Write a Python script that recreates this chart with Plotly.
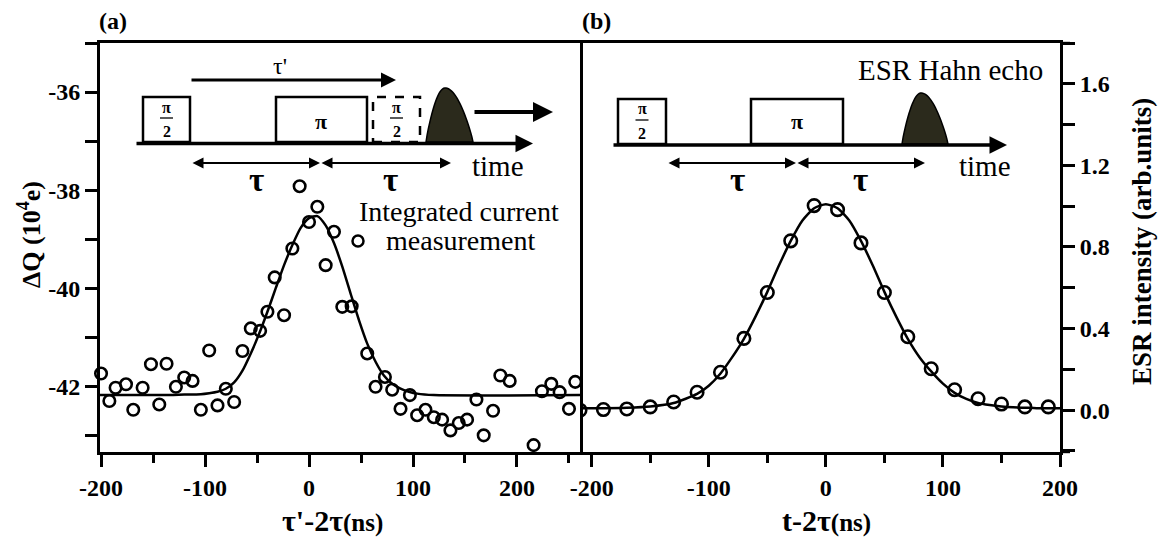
import math
import plotly.graph_objects as go

W, H = 1158, 545
ML, MR, MT, MB = 100, 98, 43, 93
SERIF = "Liberation Serif"

# ---------------- data ----------------
# (a) integrated current measurement, tau' - 2 tau (ns) vs Delta Q (1e4 e)
dq_t = [-200, -192, -186, -176, -169, -160, -152, -144, -137, -128, -120, -112,
        -104, -96, -88, -80, -72, -64, -56, -47, -40, -33, -24, -16, -9, 0, 8,
        16, 24, 32, 41, 56, 64, 73, 80, 88, 97, 104, 112, 120, 128, 136, 144,
        152, 161, 168, 177, 184, 193, 216, 224, 233, 241, 250, 256]
dq_val = [-41.74, -42.30, -42.03, -41.96, -42.48, -42.03, -41.55, -42.37, -41.54,
          -42.01, -41.82, -41.89, -42.48, -41.27, -42.39, -42.05, -42.32, -41.28,
          -40.82, -40.87, -40.48, -39.78, -40.55, -39.19, -37.92, -38.65, -38.34,
          -39.53, -38.85, -40.38, -40.37, -41.33, -42.01, -41.81, -42.07, -42.46,
          -42.18, -42.59, -42.48, -42.63, -42.68, -42.90, -42.75, -42.68, -42.27,
          -43.00, -42.50, -41.78, -41.89, -43.20, -42.10, -41.95, -42.12, -42.46,
          -41.91]
# fit curve (a)
dq_fit_t = [-201, -140, -120, -104, -96, -88, -80, -72, -64, -56, -48, -40, -32,
            -24, -16, -8, 0, 8, 16, 24, 32, 40, 48, 56, 64, 72, 80, 88, 96, 104,
            120, 261]
dq_fit_val = [-42.18, -42.18, -42.17, -42.16, -42.14, -42.11, -42.05, -41.92,
              -41.68, -41.33, -40.93, -40.48, -40.00, -39.53, -39.12, -38.77,
              -38.57, -38.53, -38.72, -39.08, -39.56, -40.11, -40.65, -41.13,
              -41.50, -41.78, -41.95, -42.05, -42.11, -42.15, -42.18, -42.18]

# (b) ESR Hahn echo, t - 2 tau (ns) vs ESR intensity (arb. units)
esr_t = [-210, -190, -170, -150, -130, -110, -90, -70, -50, -30, -10, 10, 30, 50,
         70, 90, 110, 130, 150, 170, 190]
esr_val = [0.000, 0.003, 0.006, 0.016, 0.040, 0.088, 0.186, 0.352, 0.577, 0.830,
           1.003, 0.983, 0.820, 0.577, 0.360, 0.203, 0.100, 0.056, 0.030, 0.016,
           0.016]
esr_fit_t = [-210, -190, -170, -150, -130, -110, -100, -90, -80, -70, -60, -50,
             -40, -30, -20, -10, 0, 10, 20, 30, 40, 50, 60, 70, 80, 90, 100, 110,
             120, 130, 140, 150, 160, 170, 180, 190, 200]
esr_fit_val = [0.010, 0.010, 0.012, 0.018, 0.035, 0.080, 0.120, 0.180, 0.260,
               0.350, 0.460, 0.580, 0.710, 0.830, 0.930, 0.990, 1.010, 0.990,
               0.930, 0.830, 0.710, 0.580, 0.460, 0.350, 0.260, 0.190, 0.130,
               0.085, 0.055, 0.035, 0.025, 0.018, 0.014, 0.012, 0.010, 0.010,
               0.010]

xticks_a = [-200, -100, 0, 100, 200]
xticks_a_text = ["-200", "-100", "0", "100", "200"]
xticks_b = [-200, -100, 0, 100, 200]
xticks_b_text = ["-200", "-100", "0", "100", "200"]
yticks_a = [-42, -40, -38, -36]
yticks_a_text = ["-42", "-40", "-38", "-36"]
yticks_b = [0.0, 0.4, 0.8, 1.2, 1.6]
yticks_b_text = ["0.0", "0.4", "0.8", "1.2", "1.6"]


# ---------------- helpers: pixel -> paper ----------------
def px(x):
    return (x - ML) / (W - ML - MR)


def py(y):
    return (H - MB - y) / (H - MT - MB)


fig = go.Figure()

fig.add_trace(go.Scatter(x=dq_fit_t, y=dq_fit_val, mode="lines",
                         line=dict(color="black", width=2.5, shape="spline", smoothing=0.6),
                         xaxis="x", yaxis="y", showlegend=False, hoverinfo="skip"))
fig.add_trace(go.Scatter(x=dq_t, y=dq_val, mode="markers",
                         marker=dict(symbol="circle-open", size=11.5, color="black",
                                     line=dict(width=2.6, color="black")),
                         xaxis="x", yaxis="y", showlegend=False, cliponaxis=False))
fig.add_trace(go.Scatter(x=esr_fit_t, y=esr_fit_val, mode="lines",
                         line=dict(color="black", width=2.5, shape="spline", smoothing=0.6),
                         xaxis="x2", yaxis="y2", showlegend=False, hoverinfo="skip"))
fig.add_trace(go.Scatter(x=esr_t, y=esr_val, mode="markers",
                         marker=dict(symbol="circle-open", size=12.5, color="black",
                                     line=dict(width=2.6, color="black")),
                         xaxis="x2", yaxis="y2", showlegend=False, cliponaxis=True))

TICKFONT = dict(family=SERIF, size=24, color="black", weight="bold")
common = dict(showline=True, linecolor="black", linewidth=3,
              showgrid=False, zeroline=False, ticks="outside", ticklen=12,
              tickwidth=3, tickcolor="black", tickfont=TICKFONT)

fig.update_layout(
    width=W, height=H,
    margin=dict(l=ML, r=MR, t=MT, b=MB),
    paper_bgcolor="white", plot_bgcolor="white",
    showlegend=False,
    xaxis=dict(domain=[0, 0.5], range=[-201, 260.6], anchor="y", mirror=True,
               tickmode="array", tickvals=xticks_a, ticktext=xticks_a_text,
               minor=dict(dtick=50, tick0=0, ticks="outside", ticklen=8,
                          tickwidth=3, tickcolor="black"),
               **common),
    yaxis=dict(domain=[0, 1], range=[-43.34, -35.0], anchor="x", mirror=True,
               tickmode="array", tickvals=yticks_a, ticktext=yticks_a_text,
               minor=dict(dtick=1, tick0=0, ticks="outside", ticklen=12,
                          tickwidth=3, tickcolor="black"),
               **common),
    xaxis2=dict(domain=[0.5, 1], range=[-210, 200], anchor="y2", mirror=True,
                tickmode="array", tickvals=xticks_b, ticktext=xticks_b_text,
                minor=dict(dtick=50, tick0=0, ticks="outside", ticklen=8,
                           tickwidth=3, tickcolor="black"),
                **common),
    yaxis2=dict(domain=[0, 1], range=[-0.205, 1.8], anchor="x2", side="right",
                mirror=False,
                tickmode="array", tickvals=yticks_b, ticktext=yticks_b_text,
                minor=dict(dtick=0.2, tick0=0, ticks="outside", ticklen=12,
                           tickwidth=3, tickcolor="black"),
                **common),
)

shapes = []
ann = []


def text(x, y, s, size, bold=False, angle=0, xanchor="center"):
    ann.append(dict(x=px(x), y=py(y), xref="paper", yref="paper", text=s,
                    showarrow=False, textangle=angle, xanchor=xanchor, yanchor="middle",
                    font=dict(family=SERIF, size=size, color="black",
                              weight="bold" if bold else "normal")))


def arrow(x0, y0, x1, y1, width, head=2, size=1.0, both=False):
    d = dict(x=px(x1), y=py(y1), xref="paper", yref="paper", text="",
             showarrow=True, ax=x0 - x1, ay=y0 - y1, axref="pixel", ayref="pixel",
             arrowhead=head, arrowsize=size, arrowwidth=width, arrowcolor="black",
             standoff=0, startstandoff=0)
    if both:
        d.update(arrowside="end+start", startarrowhead=head, startarrowsize=size)
    ann.append(d)


def rect(x0, y0, x1, y1, width=2.5, dash="solid"):
    shapes.append(dict(type="rect", xref="paper", yref="paper",
                       x0=px(x0), x1=px(x1), y0=py(y1), y1=py(y0),
                       line=dict(color="black", width=width, dash=dash),
                       fillcolor="rgba(0,0,0,0)", layer="above"))


def hline(x0, x1, y, width):
    shapes.append(dict(type="line", xref="paper", yref="paper",
                       x0=px(x0), x1=px(x1), y0=py(y), y1=py(y),
                       line=dict(color="black", width=width), layer="above"))


def echo(x0, x1, xpk, yb, ypk):
    w = x1 - x0
    p = (xpk - x0) / w
    pts = []
    n = 40
    for i in range(n + 1):
        t = i / n
        s = 0.5 * t / p if t < p else 0.5 + 0.5 * (t - p) / (1 - p)
        yy = yb - (yb - ypk) * math.sin(math.pi * s) ** 0.85
        pts.append((x0 + t * w, yy))
    path = "M " + " L ".join(f"{px(a):.5f},{py(b):.5f}" for a, b in pts) + " Z"
    shapes.append(dict(type="path", xref="paper", yref="paper", path=path,
                       fillcolor="#2b2a1c", line=dict(color="black", width=1.5),
                       layer="above"))


def half_pi(xc, ytop):
    text(xc, ytop + 9, "π", 16, bold=True)
    hline(xc - 6.5, xc + 6.5, ytop + 20, 1.3)
    text(xc, ytop + 33, "2", 16, bold=True)


# ---- inset (a) ----
text(113, 21, "(a)", 24, bold=True)
text(280, 66, "τ'", 24)
arrow(190, 80, 396, 80, 3, head=2, size=1.0)
rect(143, 97, 190, 142)
rect(276, 97, 367, 142)
rect(373, 97, 420, 142, dash="dash")
half_pi(166.5, 98)
half_pi(396.5, 98)
text(321, 121, "π", 22, bold=True)
echo(426, 473, 445, 142, 88)
arrow(473, 112, 553, 112, 4, head=2, size=1.0)
arrow(135, 143.5, 533, 143.5, 3.5, head=2, size=1.0)
arrow(191, 163, 320, 163, 2, head=2, size=1.1, both=True)
arrow(320, 163, 451, 163, 2, head=2, size=1.1, both=True)
text(498, 166, "time", 29)
text(256, 180, "τ", 33, bold=True)
text(390, 180, "τ", 33, bold=True)

# ---- inset (b) ----
text(596, 21, "(b)", 24, bold=True)
text(950, 70, "ESR Hahn echo", 29)
rect(618, 99, 666, 144)
rect(751, 99, 843, 144)
half_pi(642, 100)
text(797, 122, "π", 22, bold=True)
echo(902, 948, 921, 144, 93)
arrow(612, 145, 1007, 145, 3.5, head=2, size=1.0)
arrow(667, 163, 796, 163, 2, head=2, size=1.1, both=True)
arrow(796, 163, 925, 163, 2, head=2, size=1.1, both=True)
text(985, 166, "time", 29)
text(737, 180, "τ", 33, bold=True)
text(860, 180, "τ", 33, bold=True)

# ---- legend-like labels in (a) ----
text(459, 211, "Integrated current", 28)
text(460, 240, "measurement", 28)
shapes.append(dict(type="circle", xref="paper", yref="paper",
                   x0=px(352.5), x1=px(363.5), y0=py(246.5), y1=py(235.5),
                   line=dict(color="black", width=2.5), layer="above"))

# ---- frame overhang on the right ----
hline(1060, 1070, 43.3, 3)
hline(1060, 1070, 451.7, 3)

# ---- axis titles ----
text(332, 520, "τ'-2τ<span style='font-size:25px'>(ns)</span>", 30, bold=True)
text(826, 520, "t-2τ<span style='font-size:25px'>(ns)</span>", 30, bold=True)
text(29, 235, "ΔQ (10<sup>4</sup>e)", 26, bold=True, angle=-90)
text(1142, 242, "ESR intensity (arb.units)", 27, bold=True, angle=-90)

fig.update_layout(shapes=shapes, annotations=ann)
fig.write_html("out.html")
